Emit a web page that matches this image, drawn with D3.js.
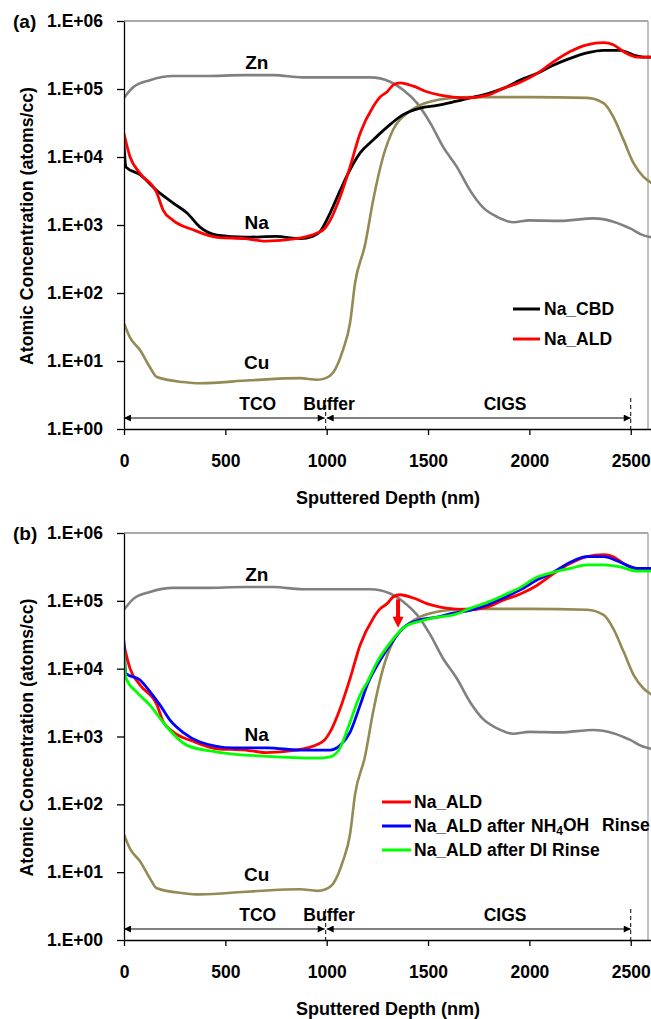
<!DOCTYPE html>
<html>
<head>
<meta charset="utf-8">
<script src="https://cdn.jsdelivr.net/npm/d3@7"></script>
<style>
  html, body { margin: 0; padding: 0; background: #fff; }
  svg { display: block; }
  text { font-family: "Liberation Sans", Arial, sans-serif; font-weight: bold; fill: #000; }
</style>
</head>
<body>
<svg id="chart" width="651" height="1019"></svg>
<script>
// ---------------- DATA (depth nm, concentration atoms/cc) ----------------
const xTicks = [0, 500, 1000, 1500, 2000, 2500];
const yTicks = [1, 10, 100, 1000, 10000, 100000, 1000000];
const yTickLabels = ["1.E+00", "1.E+01", "1.E+02", "1.E+03", "1.E+04", "1.E+05", "1.E+06"];

const Zn = [[0,7.4e4],[45,1.06e5],[128,1.35e5],[242,1.55e5],[400,1.55e5],[590,1.6e5],[740,1.6e5],[880,1.48e5],[1000,1.48e5],[1214,1.48e5],[1313,1.28e5],[1378,9.7e4],[1446,6.2e4],[1510,3.2e4],[1575,1.4e4],[1643,7.1e3],[1708,3.2e3],[1772,1.8e3],[1841,1.32e3],[1920,1.1e3],[2000,1.17e3],[2150,1.15e3],[2317,1.25e3],[2414,1.12e3],[2497,8.9e2],[2560,7.1e2],[2600,6.6e2]];

const Cu = [[0,36],[30,22],[79,14.5],[128,8.1],[162,5.8],[291,4.9],[375,4.7],[622,5.2],[869,5.6],[953,5.3],[995,5.6],[1031,6.7],[1080,14.5],[1115,36],[1140,140],[1189,508],[1229,2.3e3],[1278,1e4],[1327,2.5e4],[1396,4.4e4],[1461,5.8e4],[1545,6.9e4],[1624,7.4e4],[1708,7.6e4],[2000,7.6e4],[2284,7.4e4],[2366,6.2e4],[2414,3.9e4],[2464,1.8e4],[2514,8.1e3],[2563,5.1e3],[2600,4.2e3]];

const Na_CBD = [[0,1.5e4],[10,7.1e3],[79,5.5e3],[162,3.2e3],[243,2.1e3],[311,1.5e3],[375,930],[459,710],[600,660],[750,680],[870,630],[930,680],[967,800],[1017,1.5e3],[1066,3.2e3],[1115,6.5e3],[1165,1.15e4],[1229,1.78e4],[1298,2.75e4],[1377,4.2e4],[1461,5.25e4],[1545,5.75e4],[1624,6.45e4],[1708,7.4e4],[1792,8.5e4],[1871,1.02e5],[1955,1.35e5],[2039,1.7e5],[2118,2.24e5],[2201,2.82e5],[2284,3.4e5],[2366,3.7e5],[2448,3.7e5],[2514,3.16e5],[2563,2.95e5],[2600,2.95e5]];

const Na_ALD = [[0,2.2e4],[30,1.0e4],[79,5.75e3],[162,2.95e3],[193,1.66e3],[242,1.17e3],[341,850],[459,660],[600,630],[700,580],[850,630],[953,760],[990,890],[1017,1.17e3],[1066,2.57e3],[1115,7.1e3],[1165,2.24e4],[1229,5.5e4],[1263,7.6e4],[1298,9.1e4],[1329,1.15e5],[1362,1.23e5],[1428,1.1e5],[1494,9.1e4],[1560,8.1e4],[1624,7.6e4],[1693,7.4e4],[1792,8.1e4],[1871,1.02e5],[1955,1.26e5],[2039,1.7e5],[2118,2.5e5],[2201,3.55e5],[2284,4.47e5],[2366,4.8e5],[2414,4.47e5],[2464,3.55e5],[2534,2.95e5],[2600,2.95e5]];

const Na_NH4OH = [[0,2.5e4],[10,8.5e3],[79,6.8e3],[128,4.6e3],[178,2.9e3],[227,1.74e3],[291,1.15e3],[375,830],[538,680],[706,680],[869,630],[967,630],[1017,630],[1066,740],[1115,1.15e3],[1165,2.9e3],[1200,5.75e3],[1249,1.12e4],[1313,2.24e4],[1378,4.0e4],[1461,5.25e4],[1545,5.75e4],[1624,6.6e4],[1708,7.25e4],[1792,8.7e4],[1871,1.1e5],[1955,1.45e5],[2039,2.04e5],[2118,2.63e5],[2201,3.7e5],[2284,4.47e5],[2366,4.47e5],[2448,3.7e5],[2532,3.0e5],[2600,3.0e5]];

const Na_DI = [[0,1.86e4],[10,7.25e3],[64,4.47e3],[128,2.9e3],[193,1.62e3],[262,955],[311,740],[459,590],[706,510],[953,480],[1017,500],[1066,680],[1115,1.62e3],[1165,4.1e3],[1200,6.3e3],[1249,1.26e4],[1313,2.4e4],[1378,4.0e4],[1461,5.0e4],[1545,5.75e4],[1624,6.2e4],[1708,7.75e4],[1792,9.5e4],[1871,1.2e5],[1955,1.58e5],[2039,2.24e5],[2118,2.63e5],[2201,3.0e5],[2284,3.4e5],[2366,3.4e5],[2448,3.16e5],[2532,2.75e5],[2600,2.75e5]];

// element labels [name, depth, value]
const elementLabels = [["Zn", 655, 2.5e5], ["Na", 655, 1.1e3], ["Cu", 655, 9.5]];
// layer annotations
const layers = [{name: "TCO", from: 0, to: 990, label: 660}, {name: "CIGS", from: 1000, to: 2500, label: 1880}];
const bufferLabel = {name: "Buffer", at: 1012};
const layerBounds = [995, 2500];
// red arrow in (b): depth, from value, to value
const dropArrow = {depth: 1352, from: 1.05e5, to: 4.0e4};

// ---------------- LAYOUT ----------------
const svg = d3.select("#chart");
svg.append("rect").attr("width", 651).attr("height", 1019).attr("fill", "#fff");

const defs = svg.append("defs");
defs.append("marker").attr("id", "ah").attr("viewBox", "0 0 10 10").attr("refX", 10).attr("refY", 5)
  .attr("markerWidth", 8).attr("markerHeight", 7).attr("markerUnits", "userSpaceOnUse").attr("orient", "auto-start-reverse")
  .append("path").attr("d", "M0,0 L10,5 L0,10 Z").attr("fill", "#000");

const panels = [
  {tag: "(a)", top: 21, bottom: 429,
   series: [
     {data: Zn, color: "#808080", w: 2.6},
     {data: Cu, color: "#948A54", w: 2.6},
     {data: Na_CBD, color: "#000000", w: 2.8},
     {data: Na_ALD, color: "#FF0000", w: 2.8}],
   legend: {x1: 513, x2: 540, tx: 544, y0: 309, dy: 30,
     items: [{color: "#000000", text: "Na_CBD"}, {color: "#FF0000", text: "Na_ALD"}]}},
  {tag: "(b)", top: 533, bottom: 940,
   series: [
     {data: Zn, color: "#808080", w: 2.6},
     {data: Cu, color: "#948A54", w: 2.6},
     {data: Na_ALD, color: "#FF0000", w: 2.8},
     {data: Na_NH4OH, color: "#0000FF", w: 2.8},
     {data: Na_DI, color: "#00FF00", w: 2.8}],
   legend: {x1: 382, x2: 411, tx: 414, y0: 802, dy: 24,
     items: [{color: "#FF0000", text: "Na_ALD"}, {color: "#0000FF", text: "nh4oh"}, {color: "#00FF00", text: "Na_ALD after DI Rinse"}]},
   arrow: true}
];

const left = 124, right = 651, frameRight = 648;

panels.forEach((p, pi) => {
  const g = svg.append("g");
  const x = d3.scaleLinear().domain([0, 2600]).range([left, right]);
  const y = d3.scaleLog().domain([1, 1e6]).range([p.bottom, p.top]);

  // frame
  g.append("line").attr("x1", left).attr("x2", frameRight).attr("y1", p.top).attr("y2", p.top)
    .attr("stroke", "#555").attr("stroke-width", 1.2);
  g.append("line").attr("x1", frameRight).attr("x2", frameRight).attr("y1", p.top).attr("y2", p.bottom)
    .attr("stroke", "#999").attr("stroke-width", 1.2);

  const clipId = "clip" + pi;
  defs.append("clipPath").attr("id", clipId).append("rect")
    .attr("x", left).attr("y", p.top).attr("width", right - left).attr("height", p.bottom - p.top);

  const line = d3.line().x(d => x(d[0])).y(d => y(d[1])).curve(d3.curveMonotoneX);
  const lg = g.append("g").attr("clip-path", `url(#${clipId})`);
  p.series.forEach(s => {
    lg.append("path").attr("d", line(s.data)).attr("fill", "none")
      .attr("stroke", s.color).attr("stroke-width", s.w).attr("stroke-linejoin", "round").attr("stroke-linecap", "round");
  });

  // axes
  const yAxis = d3.axisLeft(y).tickValues(yTicks).tickFormat((d, i) => yTickLabels[i]).tickSize(7).tickSizeOuter(0).tickPadding(14);
  const ya = g.append("g").attr("transform", `translate(${left},0)`).call(yAxis);
  ya.selectAll("text").style("font-size", "17.5px").style("font-family", "'Liberation Sans', Arial, sans-serif").style("font-weight", "bold");
  ya.selectAll("path,line").attr("stroke", "#000").attr("stroke-width", 1.3);

  const xAxis = d3.axisBottom(x).tickValues(xTicks).tickFormat(d3.format("d")).tickSize(6).tickSizeOuter(0).tickPadding(20);
  const xa = g.append("g").attr("transform", `translate(0,${p.bottom})`).call(xAxis);
  xa.selectAll("text").style("font-size", "17.5px").style("font-family", "'Liberation Sans', Arial, sans-serif").style("font-weight", "bold");
  xa.selectAll("path,line").attr("stroke", "#000").attr("stroke-width", 1.3);

  // panel tag
  g.append("text").attr("x", 13).attr("y", p.top + 7).style("font-size", "19px").text(p.tag);

  // axis titles
  g.append("text").attr("transform", `translate(33,${(p.top + p.bottom) / 2 + 1}) rotate(-90)`)
    .attr("text-anchor", "middle").style("font-size", "17.5px")
    .attr("textLength", 278).attr("lengthAdjust", "spacingAndGlyphs")
    .text("Atomic Concentration (atoms/cc)");
  g.append("text").attr("x", 388).attr("y", p.bottom + 74.5).attr("text-anchor", "middle")
    .style("font-size", "18px").text("Sputtered Depth (nm)");

  // element labels
  elementLabels.forEach(([t, d, v]) => {
    g.append("text").attr("x", x(d)).attr("y", y(v)).attr("text-anchor", "middle")
      .attr("dy", "0.36em").style("font-size", "19px").text(t);
  });

  // layer annotations
  const ay = p.bottom - 11;
  layers.forEach(l => {
    g.append("line").attr("x1", x(l.from)).attr("x2", x(l.to)).attr("y1", ay).attr("y2", ay)
      .attr("stroke", "#000").attr("stroke-width", 1)
      .attr("marker-start", "url(#ah)").attr("marker-end", "url(#ah)");
    g.append("text").attr("x", x(l.label)).attr("y", p.bottom - 19).attr("text-anchor", "middle")
      .style("font-size", "17.5px").text(l.name);
  });
  g.append("text").attr("x", x(bufferLabel.at)).attr("y", p.bottom - 19).attr("text-anchor", "middle")
    .style("font-size", "17.5px").text(bufferLabel.name);
  layerBounds.forEach(b => {
    g.append("line").attr("x1", x(b)).attr("x2", x(b)).attr("y1", p.bottom - 31).attr("y2", p.bottom)
      .attr("stroke", "#000").attr("stroke-width", 1).attr("stroke-dasharray", "4,3");
  });

  // legend
  const L = p.legend;
  L.items.forEach((it, i) => {
    const yy = L.y0 + i * L.dy;
    g.append("line").attr("x1", L.x1).attr("x2", L.x2).attr("y1", yy).attr("y2", yy)
      .attr("stroke", it.color).attr("stroke-width", 3);
    if (it.text === "nh4oh") {
      const t = g.append("text").attr("x", L.tx).attr("y", yy).attr("dy", "0.36em").style("font-size", "17.5px");
      t.append("tspan").text("Na_ALD after");
      t.append("tspan").attr("x", 531).text("NH");
      t.append("tspan").attr("dy", "0.25em").style("font-size", "12px").text("4");
      t.append("tspan").attr("dy", "-0.25em").text("OH");
      t.append("tspan").attr("x", 602).text("Rinse");
    } else {
      g.append("text").attr("x", L.tx).attr("y", yy).attr("dy", "0.36em").style("font-size", "17.5px").text(it.text);
    }
  });

  // red arrow
  if (p.arrow) {
    const ax = x(dropArrow.depth), y0 = y(dropArrow.from), y1 = y(dropArrow.to);
    g.append("rect").attr("x", ax - 2).attr("y", y0).attr("width", 4).attr("height", (y1 - y0) - 10).attr("fill", "#FF0000");
    g.append("path").attr("d", `M${ax - 5.5},${y1 - 11} L${ax + 5.5},${y1 - 11} L${ax},${y1} Z`).attr("fill", "#FF0000");
  }
});
</script>
</body>
</html>
